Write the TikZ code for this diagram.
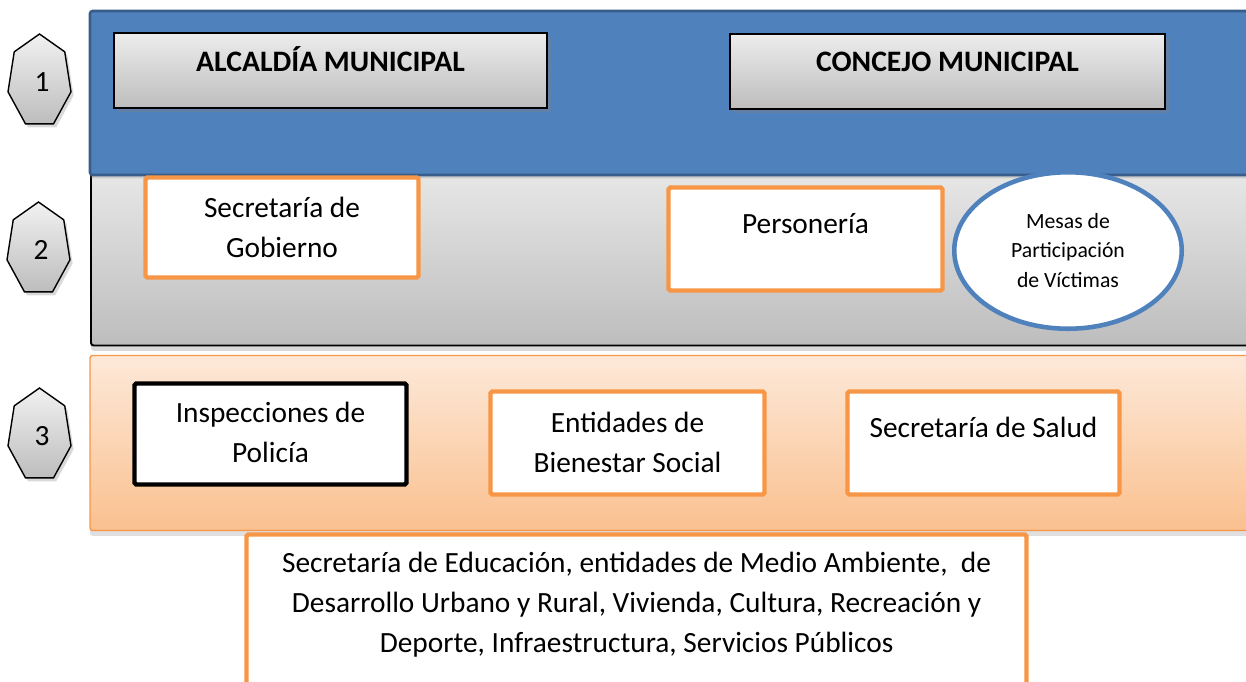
\documentclass[tikz,border=0pt]{standalone}
\usepackage{fontspec}
\setmainfont{Carlito}
\usetikzlibrary{shapes.geometric,shadows}

\definecolor{bandblue}{HTML}{4F81BD}
\definecolor{bandblueline}{HTML}{385D8A}
\definecolor{boxorange}{HTML}{F79646}
\definecolor{graytop}{HTML}{E8E8E8}
\definecolor{graybot}{HTML}{BDBDBD}
\definecolor{peachtop}{HTML}{FDE9D9}
\definecolor{peachbot}{HTML}{FAC08F}

\newdimen\pxu \pxu=0.02cm
% text box: width, height, first baseline (all in px), text
\newcommand\boxtxt[4]{\parbox[c][#2\pxu][t]{#1\pxu}{\centering\rule{0pt}{#3\pxu}#4\par}}

\begin{document}
\begin{tikzpicture}[x=0.02cm,y=-0.02cm,
  every node/.style={inner sep=0pt,outer sep=0pt,font=\fontsize{16.7}{22.8}\selectfont},
  band/.style={anchor=north west,rounded corners=1.5pt,minimum width=23.4cm},
  titlebox/.style={anchor=north west,draw=black,line width=0.9pt,top color=graytop!80!white,bottom color=graybot,
    drop shadow={opacity=0.35,shadow xshift=2pt,shadow yshift=-2.5pt},
    font=\fontsize{16.9}{22.8}\selectfont\bfseries},
  orgbox/.style={anchor=north west,draw=boxorange,line width=2.5pt,rounded corners=1pt,fill=white},
  mesas/.style={ellipse,draw=bandblue,line width=2.6pt,fill=white,minimum width=4.55cm,minimum height=3.13cm,
    align=center,font=\fontsize{12.35}{16.8}\selectfont},
  hepta/.style={draw=black,line width=0.8pt,top color=graytop!60!white,bottom color=graybot,
    drop shadow={opacity=0.3,shadow xshift=1.5pt,shadow yshift=-2pt}}]
\useasboundingbox (0,0) rectangle (1246,681);
\clip (0,0) rectangle (1246,681);

% layers
\path (91,168) node (layer2) [band,draw=black,line width=1.1pt,top color=graytop,bottom color=graybot,
  minimum height=3.55cm,drop shadow={opacity=0.3,shadow xshift=0pt,shadow yshift=-3pt}] {};
\path (90,11) node (layer1) [band,fill=bandblue,draw=bandblueline,line width=1.5pt,minimum height=3.28cm,
  drop shadow={opacity=0.25,shadow xshift=0pt,shadow yshift=-2pt}] {};
\path (90,355.5) node (layer3) [band,draw=boxorange,line width=0.8pt,top color=peachtop,bottom color=peachbot,
  minimum height=3.5cm,drop shadow={opacity=0.25,shadow xshift=0pt,shadow yshift=-3pt}] {};

% level numbers
\foreach \n/\cx/\cy in {1/39.5/81.3, 2/38.5/249.3, 3/39.5/435.3} {
  \draw [hepta,shift={(\cx,\cy)}] (0,-47.3) -- (25.25,-29.5) -- (31.5,10.5) -- (14,42.6)
    -- (-14,42.6) -- (-31.5,10.5) -- (-25.25,-29.5) -- cycle;
  \path (\cx+2.5,\cy+0.5) node (num\n) {\n};
}

% level 1
\path (114,33) node (alcaldia) [titlebox] {\boxtxt{433}{75}{38}{ALCALDÍA MUNICIPAL}};
\path (730,34) node (concejo) [titlebox] {\boxtxt{435}{75}{37}{CONCEJO MUNICIPAL}};

% level 2
\path (145.5,177.5) node (gobierno) [orgbox] {\boxtxt{273}{100}{39.5}{Secretaría de\\Gobierno}};
\path (668.5,187.5) node (personeria) [orgbox] {\boxtxt{274}{103}{45.5}{Personería}};
\path (1068,250.5) node (victimas) [mesas] {Mesas de\\Participación\\de Víctimas};

% level 3
\path (134.5,383.5) node (policia) [orgbox,draw=black] {\boxtxt{272}{101}{38.5}{Inspecciones de\\Policía}};
\path (490.5,391.5) node (bienestar) [orgbox] {\boxtxt{274}{103}{40.5}{Entidades de\\Bienestar Social}};
\path (847.5,391.5) node (salud) [orgbox] {\boxtxt{272}{103}{45.5}{Secretaría de Salud}};

\path (246.5,534.5) node (otras) [orgbox] {\boxtxt{780}{170}{37.5}{Secretaría de Educación, entidades de Medio Ambiente, \ de\\
  Desarrollo Urbano y Rural, Vivienda, Cultura, Recreación y\\Deporte, Infraestructura, Servicios Públicos}};
\end{tikzpicture}
\end{document}
